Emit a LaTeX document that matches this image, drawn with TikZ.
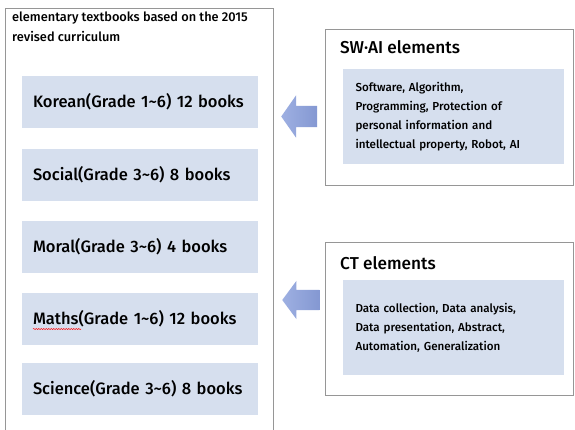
\documentclass[tikz,border=0pt]{standalone}
\usepackage{fontspec}
\setmainfont{Fira Sans}[UprightFont=* Medium]
\usetikzlibrary{shapes.arrows,decorations.pathmorphing}
\definecolor{barblue}{RGB}{214,223,238}
\definecolor{boxgray}{RGB}{150,150,150}
\definecolor{arrowdark}{RGB}{132,152,210}
\definecolor{arrowlight}{RGB}{158,176,226}
\tikzset{
  frame/.style={draw=boxgray, line width=0.8pt, fill=white},
  bookbar/.style={fill=barblue, minimum width=236pt, minimum height=52pt,
    text width=214pt, align=left, inner sep=0pt, font=\fontsize{16.5}{20}\selectfont},
  elembox/.style={fill=barblue, minimum width=221pt, minimum height=95pt,
    text width=196pt, align=left, inner sep=0pt, font=\fontsize{11.6}{19}\selectfont},
  elemtitle/.style={anchor=west, inner sep=0pt, font=\fontsize{17.2}{20}\selectfont},
  blockarrow/.style={single arrow, shape border rotate=180, anchor=tip,
    inner xsep=0pt, draw=none, shading=axis, left color=arrowlight, right color=arrowdark},
}
\begin{document}
\begin{tikzpicture}[x=1pt,y=-1pt]
\useasboundingbox (0,0) rectangle (575,429);
\fill[white] (0,0) rectangle (575,429);

% textbooks
\node[frame, minimum width=268pt, minimum height=428pt] (books) at (139,222) {};
\node[anchor=north west, align=left, inner sep=0pt, font=\fontsize{12.8}{20}\selectfont] (title) at (12,12)
  {elementary textbooks based on the 2015\\revised curriculum};
\node[bookbar] (korean) at (140,102) {Korean(Grade 1\textasciitilde6) 12 books};
\node[bookbar] (social) at (140,175) {Social(Grade 3\textasciitilde6) 8 books};
\node[bookbar] (moral) at (140,246.5) {Moral(Grade 3\textasciitilde6) 4 books};
\node[bookbar] (maths) at (140,319) {Maths(Grade 1\textasciitilde6) 12 books};
\node[bookbar] (science) at (140,388.5) {Science(Grade 3\textasciitilde6) 8 books};
\draw[red, line width=0.5pt, decorate, decoration={snake, amplitude=0.6pt, segment length=2.5pt}]
  (33,329) -- (81,329);

% elements
\node[frame, minimum width=248pt, minimum height=156pt] (swai) at (449,107) {};
\node[elemtitle] (swaititle) at (340,47) {SW·AI elements};
\node[elembox] (swailist) at (453.5,116.5)
  {Software, Algorithm,\\Programming, Protection of\\personal information and\\intellectual property, Robot, AI};
\node[frame, minimum width=248pt, minimum height=153pt] (ct) at (449,318.5) {};
\node[elemtitle] (cttitle) at (340,263) {CT elements};
\node[elembox] (ctlist) at (453.5,327.5)
  {Data collection, Data analysis,\\Data presentation, Abstract,\\Automation, Generalization};

% arrows
\node[blockarrow, minimum height=36pt, inner ysep=10.5pt, single arrow head extend=10.5pt,
  single arrow tip angle=110] (arrow1) at (281,116.5) {};
\node[blockarrow, minimum height=37pt, inner ysep=10pt, single arrow head extend=9pt,
  single arrow tip angle=107] (arrow2) at (282,300) {};
\end{tikzpicture}
\end{document}
